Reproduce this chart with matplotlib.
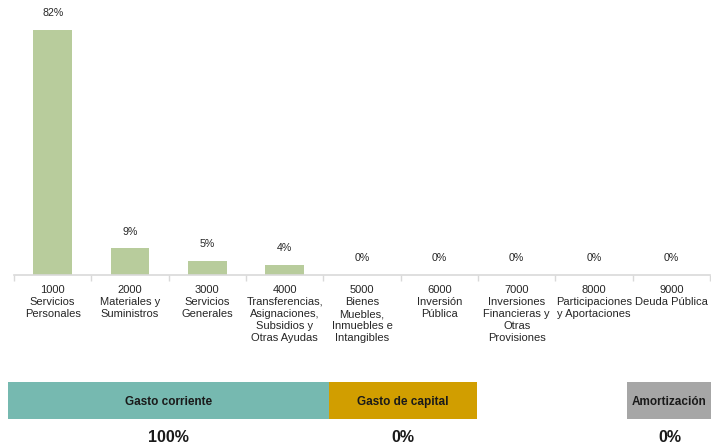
import matplotlib.pyplot as plt
import numpy as np
from matplotlib.ticker import FixedLocator

plt.rcParams["font.family"] = ["Liberation Sans", "DejaVu Sans"]

# chapter labels and share of spending (%)
categories = [
    "1000\nServicios\nPersonales",
    "2000\nMateriales y\nSuministros",
    "3000\nServicios\nGenerales",
    "4000\nTransferencias,\nAsignaciones,\nSubsidios y\nOtras Ayudas",
    "5000\nBienes\nMuebles,\nInmuebles e\nIntangibles",
    "6000\nInversión\nPública",
    "7000\nInversiones\nFinancieras y\nOtras\nProvisiones",
    "8000\nParticipaciones\ny Aportaciones",
    "9000\nDeuda Pública",
]
shares = [82, 9, 5, 4, 0, 0, 0, 0, 0]
bar_heights = [82, 8.9, 4.6, 3.5, 0, 0, 0, 0, 0]

# spending groups: span in chapter units and share (%)
groups = ["Gasto corriente", "Gasto de capital", "Amortización"]
group_start = [-0.58, 3.57, 7.43]
group_end = [3.57, 5.49, 8.52]
group_share = [100, 0, 0]
group_colors = ["#76b9b0", "#d19e00", "#a6a6a6"]

BAR_COLOR = "#b8cc9c"
AXIS_COLOR = "#d9d9d9"
TEXT_COLOR = "#262626"

W, H = 711, 447
fig = plt.figure(figsize=(W / 100, H / 100), dpi=100)

left = 14 / W
width = 696 / W
ax = fig.add_axes([left, 1 - 275 / H, width, 275 / H])

x = np.arange(len(categories))
bars = ax.bar(x, bar_heights, width=0.5, color=BAR_COLOR)
ax.bar_label(bars, labels=[f"{s}%" for s in shares], padding=8.5, fontsize=7.7, color=TEXT_COLOR)

ax.set_xlim(-0.5, len(categories) - 0.5)
ax.set_ylim(0, 92)
ax.set_xticks(x)
ax.set_xticklabels(categories, fontsize=8, color=TEXT_COLOR, linespacing=1.27)
ax.tick_params(axis="x", which="major", length=0, pad=7)
ax.xaxis.set_minor_locator(FixedLocator(np.arange(-0.5, len(categories), 1.0)))
ax.tick_params(axis="x", which="minor", length=4, color=AXIS_COLOR, width=1)
ax.set_yticks([])
for side in ["top", "right", "left"]:
    ax.spines[side].set_visible(False)
ax.spines["bottom"].set_color(AXIS_COLOR)
ax.spines["bottom"].set_linewidth(1.2)

# group boxes below the chart
ax2 = fig.add_axes([left, 1 - 419 / H, width, 37 / H], sharex=ax)
for name, a, b, share, col in zip(groups, group_start, group_end, group_share, group_colors):
    ax2.barh(0, b - a, left=a, height=1, color=col, clip_on=False)
    mid = (a + b) / 2
    ax2.text(mid, -0.03, name, ha="center", va="center", fontsize=8.5, fontweight="bold",
             color="#1a1a1a")
    ax2.text(mid, -1.0, f"{share}%", ha="center", va="center", fontsize=11.5, fontweight="bold",
             color="#1a1a1a", clip_on=False)
ax2.set_ylim(-0.5, 0.5)
ax2.axis("off")

fig.savefig("out.png", dpi=100)
